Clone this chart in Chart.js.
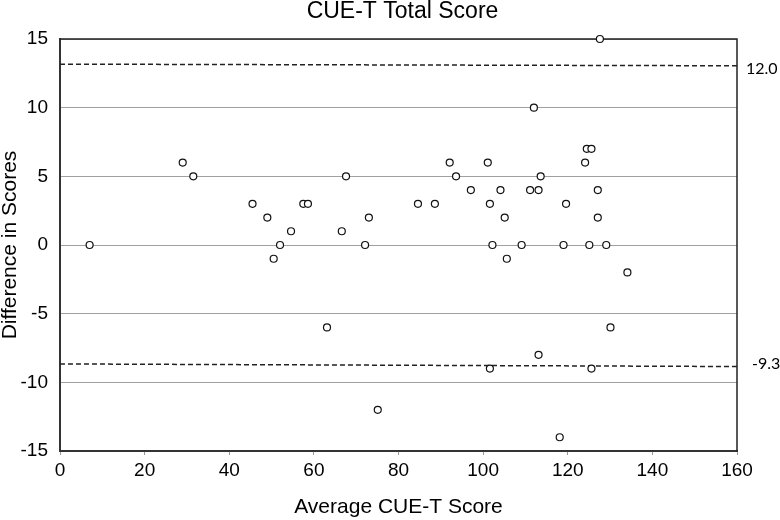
<!DOCTYPE html>
<html>
<head>
<meta charset="utf-8">
<script src="https://cdn.jsdelivr.net/npm/chart.js@4"></script>
<style>
    body { margin: 0; background: #fff; }
    canvas { display: block; }
</style>
</head>
<body>
<canvas id="bland-altman" width="780" height="520"></canvas>
<script>
const avgScore = [7, 29, 31.5, 45.5, 49, 50.5, 52, 54.6, 57.5, 58.6, 63.1, 66.6, 67.6, 72.1, 73, 75.1,
    84.6, 88.6, 92.1, 93.6, 97.1, 101.1, 101.6, 101.6, 102.2, 104.1, 105.1, 105.6, 109.1, 111.1, 112,
    113.1, 113.1, 113.6, 118.1, 119, 119.6, 124.1, 124.5, 125.1, 125.6, 125.6, 127.1, 127.1, 127.6,
    129.1, 130.1, 134.1]
const diffScore = [0, 6, 5, 3, 2, -1, 0, 1, 3, 3, -6, 1, 5, 0, 2, -12,
    3, 3, 6, 5, 4, 6, 3, -9, 0, 4, 2, -1, 0, 4, 10,
    4, -8, 5, -14, 0, 3, 6, 7, 0, 7, -9, 4, 2, 15,
    0, -6, -2]

// limits of agreement, as drawn (left end, right end) and as labelled
const upperLine = [13.17, 13.05]
const lowerLine = [-8.66, -8.85]
const limitLabels = ['12.0', '-9.3']

const xTicks = [0, 20, 40, 60, 80, 100, 120, 140, 160]
const yTicks = [-15, -10, -5, 0, 5, 10, 15]

const points = avgScore.map((x, i) => ({ x: x, y: diffScore[i] }))

const frameAndLabels = {
    id: 'frameAndLabels',
    beforeDatasetsDraw(chart) {
        const { ctx, chartArea } = chart
        ctx.save()
        ctx.strokeStyle = '#222'
        ctx.lineWidth = 1.5
        ctx.beginPath()
        ctx.moveTo(chartArea.left, chartArea.top)
        ctx.lineTo(chartArea.right, chartArea.top)
        ctx.lineTo(chartArea.right, chartArea.bottom)
        ctx.stroke()
        ctx.restore()
    },
    afterDraw(chart) {
        const { ctx, chartArea, scales } = chart
        ctx.save()
        ctx.fillStyle = '#000'
        ctx.font = '23px "Liberation Sans", Arial, sans-serif'
        ctx.textAlign = 'center'
        ctx.textBaseline = 'alphabetic'
        ctx.fillText('CUE-T Total Score', (chartArea.left + chartArea.right) / 2 + 4, 18)

        ctx.font = '16px Lato, sans-serif'
        ctx.textAlign = 'left'
        ctx.textBaseline = 'middle'
        ctx.fillText(limitLabels[0], chartArea.right + 9, scales.y.getPixelForValue(upperLine[1]) + 3)
        ctx.fillText(limitLabels[1], chartArea.right + 15, scales.y.getPixelForValue(lowerLine[1]) - 3)
        ctx.restore()
    }
}

const ctx = document.getElementById('bland-altman')
const myChart = new Chart(ctx, {
    type: 'scatter',
    data: {
        datasets: [{
            label: 'Difference',
            data: points,
            pointRadius: 3.5,
            pointHoverRadius: 3.5,
            pointBorderWidth: 1.2,
            pointBorderColor: '#111',
            pointBackgroundColor: '#fff',
            clip: false
        }, {
            type: 'line',
            label: 'Upper limit',
            data: [{ x: xTicks[0], y: upperLine[0] }, { x: xTicks[xTicks.length - 1], y: upperLine[1] }],
            borderColor: '#222',
            borderWidth: 1.5,
            borderDash: [5, 3],
            pointRadius: 0,
            fill: false
        }, {
            type: 'line',
            label: 'Lower limit',
            data: [{ x: xTicks[0], y: lowerLine[0] }, { x: xTicks[xTicks.length - 1], y: lowerLine[1] }],
            borderColor: '#222',
            borderWidth: 1.5,
            borderDash: [5, 3],
            pointRadius: 0,
            fill: false
        }]
    },
    options: {
        responsive: false,
        animation: false,
        layout: { padding: { top: 39, right: 43, left: 0, bottom: 0 } },
        plugins: {
            legend: { display: false },
            tooltip: { enabled: false },
            title: { display: false }
        },
        scales: {
            x: {
                type: 'linear',
                min: xTicks[0],
                max: xTicks[xTicks.length - 1],
                afterBuildTicks: scale => { scale.ticks = xTicks.map(v => ({ value: v })) },
                afterFit: scale => { scale.height = 69 },
                ticks: {
                    color: '#000',
                    font: { family: '"Liberation Sans", Arial, sans-serif', size: 19 },
                    padding: 4,
                    maxRotation: 0
                },
                grid: { drawOnChartArea: false, drawTicks: true, tickLength: 4, color: '#999' },
                border: { color: '#333', width: 2 },
                title: {
                    display: true,
                    text: 'Average CUE-T Score',
                    color: '#000',
                    font: { family: '"Liberation Sans", Arial, sans-serif', size: 21 },
                    padding: { top: 0, bottom: 0 }
                }
            },
            y: {
                min: yTicks[0],
                max: yTicks[yTicks.length - 1],
                afterBuildTicks: scale => { scale.ticks = yTicks.map(v => ({ value: v })) },
                afterFit: scale => { scale.width = 60 },
                ticks: {
                    color: '#000',
                    font: { family: '"Liberation Sans", Arial, sans-serif', size: 19 },
                    padding: 12
                },
                grid: { color: '#a0a0a0', lineWidth: 1, drawTicks: false },
                border: { color: '#333', width: 2 },
                title: {
                    display: true,
                    text: 'Difference in Scores',
                    color: '#000',
                    font: { family: '"Liberation Sans", Arial, sans-serif', size: 21, lineHeight: 1 },
                    padding: 0
                }
            }
        }
    },
    plugins: [frameAndLabels]
})
</script>
</body>
</html>
